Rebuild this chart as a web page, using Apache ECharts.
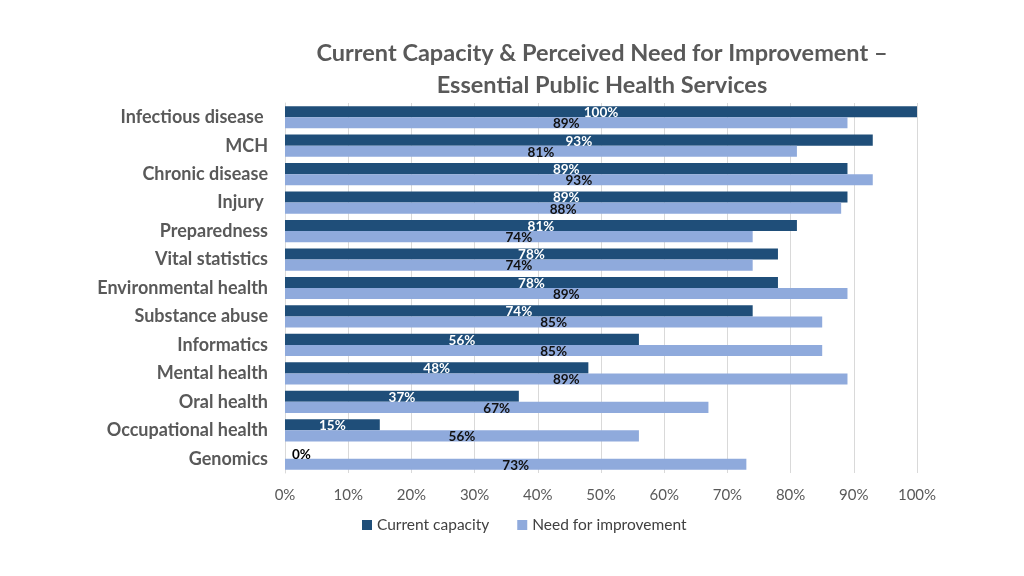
<!DOCTYPE html>
<html><head><meta charset="utf-8">
<script src="https://cdn.jsdelivr.net/npm/echarts@6/dist/echarts.min.js"></script>
<style>html,body{margin:0;padding:0;background:#fff}#c{width:1024px;height:576px}</style>
</head><body><div id="c"></div>
<script>
const categories = ['Infectious disease ','MCH','Chronic disease','Injury ','Preparedness','Vital statistics','Environmental health','Substance abuse','Informatics','Mental health','Oral health','Occupational health','Genomics'];
const currentCapacity = [100,93,89,89,81,78,78,74,56,48,37,15,0];
const needForImprovement = [89,81,93,88,74,74,89,85,85,89,67,56,73];
const xTicks = [0,10,20,30,40,50,60,70,80,90,100];

const font = 'Lato, "Open Sans", sans-serif';
const chart = echarts.init(document.getElementById('c'));
chart.setOption({
  animation:false,
  title:{text:'Current Capacity & Perceived Need for Improvement –\nEssential Public Health Services',left:597,top:32,textAlign:'center',
    textStyle:{fontFamily:font,fontSize:23.5,fontWeight:'bold',color:'#595959',lineHeight:32}},
  legend:{bottom:38,left:357,itemWidth:10,itemHeight:10,itemGap:28,icon:'rect',
    textStyle:{fontFamily:font,fontSize:15.5,color:'#404040'},data:['Current capacity','Need for improvement']},
  grid:{left:285,right:107,top:103,bottom:103,containLabel:false},
  xAxis:{type:'value',min:0,max:100,interval:10,
    axisLabel:{formatter:v=>v+'%',fontFamily:font,fontSize:15,color:'#595959',margin:15},
    splitLine:{lineStyle:{color:'#d9d9d9'}},axisLine:{show:false},axisTick:{show:false}},
  yAxis:{type:'category',inverse:true,data:categories,
    axisLabel:{fontFamily:font,fontSize:18,fontWeight:'bold',color:'#595959',margin:17},
    axisLine:{lineStyle:{color:'#d9d9d9'}},axisTick:{show:false}},
  series:[
    {name:'Current capacity',type:'bar',barGap:'0%',barCategoryGap:'22%',
     itemStyle:{color:'#1F4E79'},
     data:currentCapacity.map((v,i)=> v===0 ? {value:v,label:{position:'right',offset:[2,1],color:'#000'}} : v),
     label:{show:true,position:'inside',formatter:p=>p.value+'%',color:'#fff',fontFamily:font,fontSize:13.5,fontWeight:'bold',offset:[0,1]}},
    {name:'Need for improvement',type:'bar',barCategoryGap:'22%',
     itemStyle:{color:'#8FAADC'},data:needForImprovement,
     label:{show:true,position:'inside',formatter:p=>p.value+'%',color:'#111',fontFamily:font,fontSize:13.5,fontWeight:'bold',offset:[0,1]}}
  ]
});
</script></body></html>
